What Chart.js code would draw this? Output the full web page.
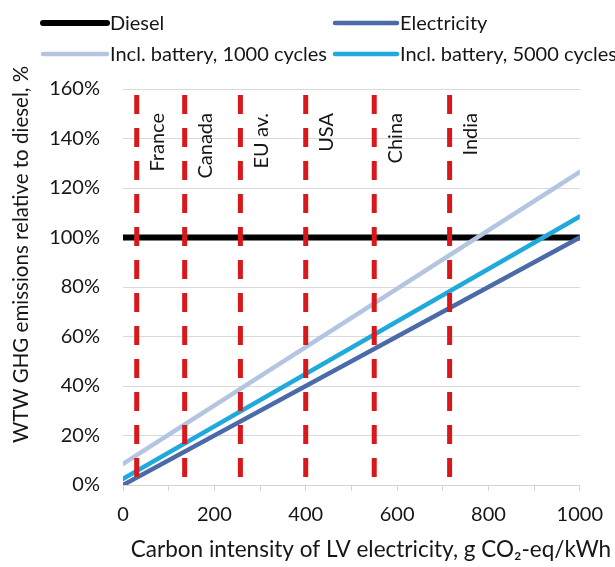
<!DOCTYPE html>
<html>
<head>
<meta charset="utf-8">
<script src="https://cdn.jsdelivr.net/npm/chart.js@4/dist/chart.umd.min.js"></script>
<style>
  html, body { margin: 0; padding: 0; background: #fff; }
  #wrap { position: relative; width: 615px; height: 567px; }
</style>
</head>
<body>
<div id="wrap"><canvas id="c"></canvas></div>
<script>
// Carbon intensity of LV electricity (g CO2-eq/kWh) at the ends of each line
const intensity = [0, 1000];

// WTW GHG emissions relative to diesel, %
const diesel = [100, 100];
const electricity = [0, 100];
const battery1000 = [8.5, 126.5];
const battery5000 = [2.5, 108.5];

// Grid-mix reference points
const countries = ['France', 'Canada', 'EU av.', 'USA', 'China', 'India'];
const countryIntensity = [30, 135, 257, 400, 550, 715];

const seriesNames = ['Diesel', 'Electricity', 'Incl. battery, 1000 cycles', 'Incl. battery, 5000 cycles'];
const seriesColors = ['#000000', '#4a6aa8', '#b4c5e2', '#1fa9dc'];
const seriesWidths = [6, 4.5, 4.5, 4.5];
const seriesValues = [diesel, electricity, battery1000, battery5000];

const yTicks = [0, 20, 40, 60, 80, 100, 120, 140, 160];
const xTicks = [0, 200, 400, 600, 800, 1000];

const FONT = 'Lato, "Open Sans", sans-serif';
const TEXT = '#161616';

const datasets = [];
seriesNames.forEach((name, i) => {
  datasets.push({
    label: name,
    data: intensity.map((x, k) => ({ x: x, y: seriesValues[i][k] })),
    borderColor: seriesColors[i],
    borderWidth: seriesWidths[i],
    borderCapStyle: 'round',
    pointRadius: 0,
    order: [4, 3, 2, 1][i],
    inLegend: true
  });
});
countries.forEach((name, i) => {
  datasets.push({
    label: name,
    data: [{ x: countryIntensity[i], y: yTicks[yTicks.length - 1] }, { x: countryIntensity[i], y: yTicks[0] }],
    borderColor: '#d9181c',
    borderWidth: 5,
    borderDash: [19, 14],
    borderDashOffset: 27,
    borderCapStyle: 'butt',
    pointRadius: 0,
    order: 0,
    inLegend: false,
    country: true
  });
});

// Legend in two fixed columns, plus country names and axis titles
const annotate = {
  id: 'annotate',
  afterDatasetsDraw(chart) {
    const ctx = chart.ctx;
    const xs = chart.scales.x;
    ctx.save();
    ctx.fillStyle = TEXT;

    // country names beside each dashed line
    ctx.font = '20px ' + FONT;
    chart.data.datasets.forEach(ds => {
      if (!ds.country) return;
      const px = xs.getPixelForValue(ds.data[0].x);
      ctx.save();
      ctx.translate(px + 27.5, 113);
      ctx.rotate(-Math.PI / 2);
      ctx.textAlign = 'right';
      ctx.textBaseline = 'alphabetic';
      ctx.fillText(ds.label, 0, 0);
      ctx.restore();
    });

    // legend
    const cols = [{ lx: 43, rx: 107, tx: 110 }, { lx: 335, rx: 397, tx: 400 }];
    const rows = [23, 54];
    const items = chart.data.datasets.filter(d => d.inLegend);
    items.forEach((ds, i) => {
      const c = cols[i % 2];
      const y = rows[Math.floor(i / 2)];
      ctx.strokeStyle = ds.borderColor;
      ctx.lineWidth = ds.borderWidth;
      ctx.lineCap = 'round';
      ctx.beginPath();
      ctx.moveTo(c.lx, y);
      ctx.lineTo(c.rx, y);
      ctx.stroke();
      ctx.font = '20px ' + FONT;
      ctx.textAlign = 'left';
      ctx.textBaseline = 'middle';
      ctx.fillText(ds.label, c.tx, y + 1);
    });

    // axis titles
    ctx.textAlign = 'center';
    ctx.textBaseline = 'alphabetic';
    ctx.font = '22.5px ' + FONT;
    ctx.fillText('Carbon intensity of LV electricity, g CO\u2082-eq/kWh', 371, 557);
    ctx.font = '20.5px ' + FONT;
    ctx.save();
    ctx.translate(28, 254.5);
    ctx.rotate(-Math.PI / 2);
    ctx.fillText('WTW GHG emissions relative to diesel, %', 0, 0);
    ctx.restore();

    ctx.restore();
  }
};

new Chart(document.getElementById('c'), {
  type: 'line',
  data: { datasets: datasets },
  plugins: [annotate],
  options: {
    responsive: true,
    maintainAspectRatio: false,
    animation: false,
    events: [],
    layout: { padding: { left: 0, right: 35, top: 89, bottom: 0 } },
    plugins: { legend: { display: false }, tooltip: { enabled: false } },
    scales: {
      x: {
        type: 'linear',
        min: xTicks[0],
        max: xTicks[xTicks.length - 1],
        afterFit(scale) { scale.height = 82; },
        afterBuildTicks(scale) {
          const t = [];
          for (let v = xTicks[0]; v <= xTicks[xTicks.length - 1]; v += 100) t.push({ value: v });
          scale.ticks = t;
        },
        border: { display: true, color: '#d4d4d4', width: 1 },
        grid: { drawOnChartArea: false, drawTicks: true, tickLength: 6, color: '#d4d4d4' },
        ticks: {
          autoSkip: false,
          maxRotation: 0,
          padding: 12,
          color: TEXT,
          font: { family: FONT, size: 20 },
          callback: v => (xTicks.includes(v) ? String(v) : '')
        }
      },
      y: {
        min: yTicks[0],
        max: yTicks[yTicks.length - 1],
        afterFit(scale) { scale.width = 123; },
        afterBuildTicks(scale) { scale.ticks = yTicks.map(v => ({ value: v })); },
        border: { display: false },
        grid: { drawTicks: false, color: '#d9d9d9', lineWidth: 1 },
        ticks: {
          padding: 23,
          color: TEXT,
          font: { family: FONT, size: 20 },
          callback: v => v + '%'
        }
      }
    }
  }
});
</script>
</body>
</html>
